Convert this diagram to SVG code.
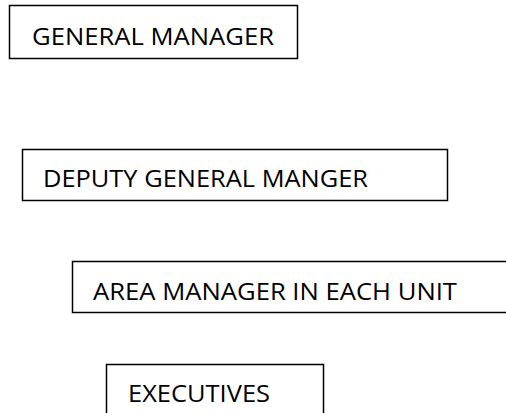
<svg xmlns="http://www.w3.org/2000/svg" width="506" height="413" viewBox="0 0 506 413">
<style>
.box{fill:#fff;stroke:#000;stroke-width:1.5}
.lbl{font-family:"Open Sans","Liberation Sans",sans-serif;font-size:24px;fill:#000}
</style>
<rect width="506" height="413" fill="#fff"/>
<g id="connectors"></g>
<g id="general-manager">
<rect class="box" x="9.5" y="5.5" width="288" height="53"/>
<text class="lbl" x="32" y="45" textLength="242" lengthAdjust="spacingAndGlyphs">GENERAL MANAGER</text>
</g>
<g id="deputy-general-manager">
<rect class="box" x="22.5" y="149.5" width="425" height="51"/>
<text class="lbl" x="43" y="187" textLength="325" lengthAdjust="spacingAndGlyphs">DEPUTY GENERAL MANGER</text>
</g>
<g id="area-manager">
<rect class="box" x="72.5" y="261.5" width="445" height="51"/>
<text class="lbl" x="93" y="300" textLength="364" lengthAdjust="spacingAndGlyphs">AREA MANAGER IN EACH UNIT</text>
</g>
<g id="executives">
<rect class="box" x="106.5" y="364.5" width="217" height="60"/>
<text class="lbl" x="128" y="402" textLength="142" lengthAdjust="spacingAndGlyphs">EXECUTIVES</text>
</g>
</svg>
